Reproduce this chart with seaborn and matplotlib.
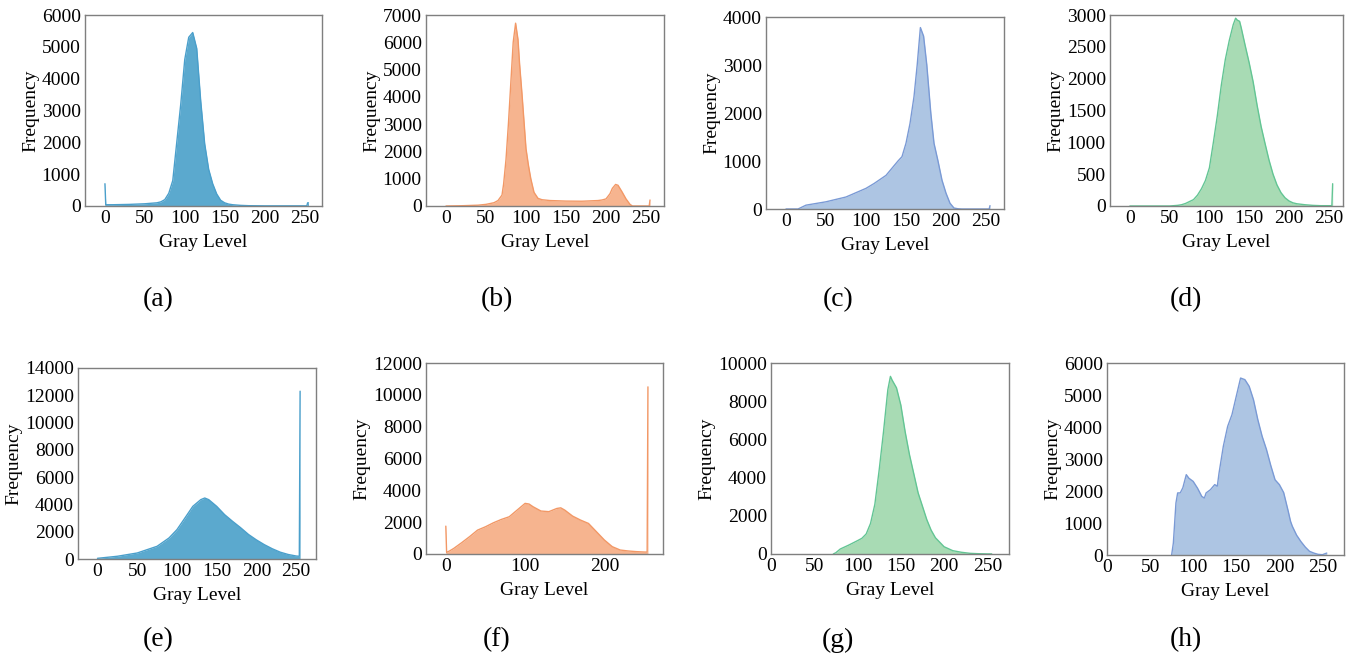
import numpy as np
import pandas as pd
import matplotlib
matplotlib.use('Agg')
import matplotlib.pyplot as plt
import seaborn as sns

# --------------------------------------------------
# Histogram values (gray level -> pixel count)
# --------------------------------------------------

a_levels = [0, 1, 5, 10, 20, 30, 40, 50, 60, 65, 70, 75, 80, 85, 90, 95, 100, 105, 110, 115,
            120, 125, 130, 135, 140, 145, 150, 155, 160, 170, 180, 200, 250, 253, 254, 255]
a_counts = [700, 40, 40, 40, 45, 50, 60, 70, 90, 100, 130, 200, 400, 800, 2000, 3200, 4600, 5300, 5450, 4950,
            3300, 1950, 1150, 700, 380, 180, 100, 60, 40, 20, 10, 5, 5, 5, 100, 100]

b_levels = [0, 20, 30, 40, 50, 55, 60, 65, 70, 72, 75, 78, 80, 82, 84, 87, 90, 92, 95, 98,
            100, 103, 106, 110, 115, 120, 130, 150, 170, 190, 195, 200, 205, 208, 212, 215, 220, 225, 230,
            233, 254, 255]
b_counts = [0, 10, 20, 30, 60, 90, 120, 200, 400, 800, 1700, 3000, 4000, 5000, 6000, 6700, 6100, 5200, 4100, 2900,
            2100, 1500, 1000, 500, 280, 230, 200, 180, 175, 200, 220, 260, 450, 650, 790, 760, 520, 260, 60,
            0, 0, 220]

c_levels = [0, 15, 25, 50, 75, 100, 110, 125, 140, 145, 150, 155, 160, 164, 168, 172, 176, 181, 185,
            190, 195, 200, 205, 210, 215, 220, 254, 255]
c_counts = [0, 0, 80, 150, 250, 430, 530, 700, 1000, 1090, 1370, 1780, 2340, 3000, 3780, 3600, 3000, 2000, 1370,
            1000, 600, 330, 120, 20, 5, 0, 0, 70]

d_levels = [0, 50, 55, 60, 65, 70, 75, 80, 85, 90, 95, 100, 105, 110, 115, 120, 125, 130, 133, 135,
            138, 140, 145, 150, 155, 160, 165, 170, 175, 180, 185, 190, 195, 200, 205, 210, 220, 230, 240,
            254, 255]
d_counts = [0, 0, 5, 10, 20, 40, 70, 100, 170, 270, 400, 600, 1000, 1420, 1900, 2300, 2600, 2850, 2950, 2920,
            2900, 2800, 2520, 2250, 1950, 1580, 1250, 980, 720, 500, 330, 210, 130, 80, 50, 35, 20, 10, 5,
            5, 350]

e_levels = [0, 25, 50, 75, 90, 100, 110, 120, 130, 135, 140, 150, 160, 170, 180, 190, 200, 210, 220,
            230, 240, 250, 254, 255]
e_counts = [50, 200, 440, 930, 1540, 2150, 3000, 3860, 4350, 4470, 4350, 3860, 3250, 2760, 2300, 1800, 1400, 1050, 750,
            500, 330, 220, 200, 12300]

f_levels = [0, 1, 5, 10, 20, 30, 40, 50, 60, 70, 80, 90, 100, 105, 110, 120, 130, 140, 145, 150,
            160, 170, 180, 190, 200, 210, 220, 230, 240, 250, 254, 255]
f_counts = [1750, 100, 200, 350, 710, 1090, 1500, 1710, 1960, 2170, 2340, 2760, 3180, 3140, 2970, 2700, 2660, 2860, 2900, 2760,
            2380, 2130, 1920, 1400, 880, 460, 250, 190, 150, 125, 120, 10500]

g_levels = [72, 75, 80, 90, 100, 105, 110, 115, 120, 125, 130, 135, 138, 140, 145, 150, 155, 160, 165,
            170, 175, 180, 185, 190, 200, 210, 220, 230, 240, 250, 255]
g_counts = [0, 70, 260, 470, 700, 820, 1050, 1600, 2600, 4400, 6400, 8600, 9300, 9100, 8700, 7800, 6400, 5200, 4200,
            3200, 2500, 1800, 1250, 850, 380, 175, 90, 35, 15, 5, 5]

h_levels = [75, 77, 80, 82, 85, 88, 92, 95, 100, 105, 110, 113, 115, 120, 125, 128, 130, 135, 140,
            145, 150, 155, 160, 165, 170, 175, 180, 185, 190, 195, 200, 205, 210, 213, 215, 220, 225, 230,
            235, 240, 245, 250, 255]
h_counts = [0, 375, 1625, 1940, 1940, 2100, 2510, 2400, 2300, 2090, 1830, 1780, 1940, 2040, 2200, 2150, 2560, 3400, 4020,
            4385, 4960, 5530, 5480, 5270, 4850, 4230, 3710, 3300, 2800, 2350, 2200, 1950, 1400, 1050, 900, 620, 420, 250,
            115, 60, 20, 10, 60]

panel_names = ['(a)', '(b)', '(c)', '(d)', '(e)', '(f)', '(g)', '(h)']
y_maxes = [6000, 7000, 4000, 3000, 14000, 12000, 10000, 6000]
y_steps = [1000, 1000, 1000, 500, 2000, 2000, 2000, 1000]
x_ticks_default = [0, 50, 100, 150, 200, 250]
x_ticks_f = [0, 100, 200]

# --------------------------------------------------
# Styling
# --------------------------------------------------

sns.set_style('white')
plt.rcParams['font.family'] = ['Liberation Serif', 'DejaVu Serif']
plt.rcParams['text.color'] = 'black'
plt.rcParams['axes.labelcolor'] = 'black'
plt.rcParams['xtick.color'] = 'black'
plt.rcParams['ytick.color'] = 'black'

blue = ('#5BA9CE', '#4A9FCB')
orange = ('#F6B48F', '#F29866')
steel = ('#ADC5E3', '#7A9AD5')
green = ('#A8DBB4', '#63C594')
colors = [blue, orange, steel, green, blue, orange, green, steel]

W, H = 1353, 665
# axes boxes in pixels: left, right, top, bottom
boxes = [(85, 322, 15, 206), (426, 664, 15, 206), (766, 1004, 17, 209), (1110, 1343, 15, 206),
         (78, 316, 368, 559), (426, 663, 363, 554), (771, 1009, 363, 554), (1107, 1344, 363, 555)]
xlims = [(-25, 272), (-25, 272.5), (-25, 272.5), (-25, 268),
         (-24.5, 275), (-25, 274), (0, 275), (0, 275)]
letter_x = [158, 497, 838, 1186, 158, 497, 838, 1186]
letter_y = [300, 300, 300, 300, 640, 640, 640, 640]

series = [(a_levels, a_counts), (b_levels, b_counts), (c_levels, c_counts), (d_levels, d_counts),
          (e_levels, e_counts), (f_levels, f_counts), (g_levels, g_counts), (h_levels, h_counts)]

fig = plt.figure(figsize=(W / 100, H / 100), dpi=100)

for i, (levels, counts) in enumerate(series):
    l, r, t, b = boxes[i]
    ax = fig.add_axes([l / W, 1 - b / H, (r - l) / W, (b - t) / H])
    df = pd.DataFrame({'level': levels, 'count': counts})
    fill_c, edge_c = colors[i]

    # filled area under the histogram outline
    ax.fill_between(df.level, 0, df['count'], color=fill_c, lw=0)
    sns.lineplot(data=df, x='level', y='count', ax=ax, color=edge_c, lw=1, estimator=None)

    ax.set_xlim(*xlims[i])
    ax.set_ylim(0, y_maxes[i])
    ax.set_xticks(x_ticks_f if i == 5 else x_ticks_default)
    ax.set_yticks(np.arange(0, y_maxes[i] + 1, y_steps[i]))
    ax.tick_params(direction='in', length=3, width=0.8, color='#333333', labelsize=14, pad=3)
    ax.set_xlabel('Gray Level', fontsize=14, labelpad=5)
    ax.set_ylabel('Frequency', fontsize=14, labelpad=2)
    for spine in ax.spines.values():
        spine.set_color('#7f7f7f')
        spine.set_linewidth(1)

    fig.text(letter_x[i] / W, 1 - letter_y[i] / H, panel_names[i], fontsize=20,
             ha='center', va='center')

fig.savefig('out.png', dpi=100, facecolor='white')
